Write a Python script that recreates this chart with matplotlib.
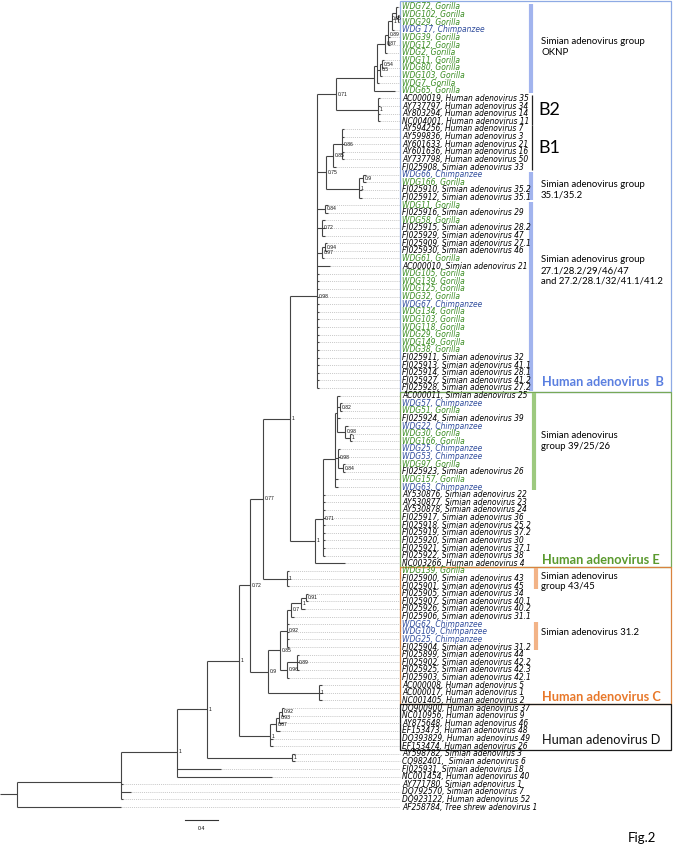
import re
import matplotlib
matplotlib.use("Agg")
import matplotlib.pyplot as plt
from matplotlib import font_manager as fm
from matplotlib.collections import LineCollection
from matplotlib.patches import Rectangle

# ---------------- data ----------------
taxa = [
    "WDG72, Gorilla", "WDG102, Gorilla", "WDG29, Gorilla", "WDG 17, Chimpanzee",
    "WDG39, Gorilla", "WDG12, Gorilla", "WDG2, Gorilla", "WDG11, Gorilla",
    "WDG80, Gorilla", "WDG103, Gorilla", "WDG7, Gorilla", "WDG65, Gorilla",
    "AC000019, Human adenovirus 35", "AY737797, Human adenovirus 34",
    "AY803294, Human adenovirus 14", "NC004001, Human adenovirus 11",
    "AY594256, Human adenovirus 7", "AY599836, Human adenovirus 3",
    "AY601633, Human adenovirus 21", "AY601636, Human adenovirus 16",
    "AY737798, Human adenovirus 50", "FJ025908, Simian adenovirus 33",
    "WDG66, Chimpanzee", "WDG166, Gorilla",
    "FJ025910, Simian adenovirus 35.2", "FJ025912, Simian adenovirus 35.1",
    "WDG11, Gorilla", "FJ025916, Simian adenovirus 29", "WDG58, Gorilla",
    "FJ025915, Simian adenovirus 28.2", "FJ025929, Simian adenovirus 47",
    "FJ025909, Simian adenovirus 27.1", "FJ025930, Simian adenovirus 46",
    "WDG61, Gorilla", "AC000010, Simian adenovirus 21",
    "WDG105, Gorilla", "WDG139, Gorilla", "WDG125, Gorilla", "WDG32, Gorilla",
    "WDG67, Chimpanzee", "WDG134, Gorilla", "WDG103, Gorilla", "WDG118, Gorilla",
    "WDG29, Gorilla", "WDG149, Gorilla", "WDG38, Gorilla",
    "FJ025911, Simian adenovirus 32", "FJ025913, Simian adenovirus 41.1",
    "FJ025914, Simian adenovirus 28.1", "FJ025927, Simian adenovirus 41.2",
    "FJ025928, Simian adenovirus 27.2",
    "AC000011, Simian adenovirus 25", "WDG57, Chimpanzee", "WDG51, Gorilla",
    "FJ025924, Simian adenovirus 39", "WDG22, Chimpanzee", "WDG30, Gorilla",
    "WDG166, Gorilla", "WDG25, Chimpanzee", "WDG53, Chimpanzee", "WDG97, Gorilla",
    "FJ025923, Simian adenovirus 26", "WDG157, Gorilla", "WDG63, Chimpanzee",
    "AY530876, Simian adenovirus 22", "AY530877, Simian adenovirus 23",
    "AY530878, Simian adenovirus 24", "FJ025917, Simian adenovirus 36",
    "FJ025918, Simian adenovirus 25.2", "FJ025919, Simian adenovirus 37.2",
    "FJ025920, Simian adenovirus 30", "FJ025921, Simian adenovirus 37.1",
    "FJ025922, Simian adenovirus 38", "NC003266, Human adenovirus 4",
    "WDG139, Gorilla", "FJ025900, Simian adenovirus 43",
    "FJ025901, Simian adenovirus 45", "FJ025905, Simian adenovirus 34",
    "FJ025907, Simian adenovirus 40.1", "FJ025926, Simian adenovirus 40.2",
    "FJ025906, Simian adenovirus 31.1", "WDG62, Chimpanzee", "WDG109, Chimpanzee",
    "WDG25, Chimpanzee", "FJ025904, Simian adenovirus 31.2",
    "FJ025899, Simian adenovirus 44", "FJ025902, Simian adenovirus 42.2",
    "FJ025925, Simian adenovirus 42.3", "FJ025903, Simian adenovirus 42.1",
    "AC000008, Human adenovirus 5", "AC000017, Human adenovirus 1",
    "NC001405, Human adenovirus 2",
    "DQ900900, Human adenovirus 37", "NC010956, Human adenovirus 9",
    "AY875648, Human adenovirus 46", "EF153473, Human adenovirus 48",
    "DQ393829, Human adenovirus 49", "EF153474, Human adenovirus 26",
    "AY598782, Simian adenovirus 3", "CQ982401,  Simian adenovirus 6",
    "FJ025931, Simian adenovirus 18", "NC001454, Human adenovirus 40",
    "AY771780, Simian adenovirus 1", "DQ792570, Simian adenovirus 7",
    "DQ923122, Human adenovirus 52", "AF258784, Tree shrew adenovirus 1",
]

# tree pieces (Newick, leaves = 1-based index into taxa, labels = posterior support)
clade_oknp = ("((((((1:0.024,(2:0.012,3:0.012)0.65:0.024):0.048,4:0.024)1:0.048,"
              "5:0.024,6:0.024)0.89:0.036,7:0.024)0.87:0.097,"
              "((8:0.024,9:0.024)0.54:0.024,10:0.024)0.5:0.036,11:0.024):0.036,"
              "12:0.255):0.461")
clade_b2 = "(13:0.024,14:0.024,15:0.024,16:0.024)1:0.509"
clade_b1 = ("((17:0.024,18:0.024,19:0.024,20:0.024,21:0.024)0.86:0.109,"
            "22:0.036)0.85:0.085")
clade_s35 = "((23:0.036,24:0.036)0.9:0.048,25:0.036,26:0.036)1:0.400"
clade_s27 = ("(27:0.036,28:0.036)0.84:0.097,(29:0.036,30:0.036,31:0.036)0.72:0.061,"
             "((32:0.024,33:0.024)0.94:0.036,34:0.024)0.97:0.061,35:0.158,"
             "36:0.024,37:0.024,38:0.024,39:0.024,40:0.024,41:0.024,42:0.024,"
             "43:0.024,44:0.024,45:0.024,46:0.024,47:0.024,48:0.024,49:0.024,"
             "50:0.024,51:0.024")
clade_e39 = ("((52:0.036,(53:0.024,54:0.024)0.82:0.036,55:0.036,"
             "(56:0.036,(57:0.024,58:0.024)1:0.061)0.98:0.097):0.024,"
             "(59:0.024,60:0.024,(61:0.024,62:0.024)0.84:0.061)0.98:0.036,"
             "63:0.036,64:0.036):0.145")
clade_e_rest = ("65:0.024,66:0.024,67:0.024,68:0.024,69:0.024,70:0.024,"
                "71:0.024,72:0.024,73:0.024")
clade_4345 = "(75:0.024,76:0.024,77:0.024)1:0.291"
clade_c_simian = ("(((((78:0.024,79:0.024)0.91:0.061,80:0.048)1:0.121,81:0.036)0.7:0.048,"
                  "82:0.024,83:0.024,84:0.024,85:0.024)0.92:0.085,"
                  "((86:0.024,87:0.024,88:0.024)0.89:0.121,89:0.024)0.96:0.085)0.85:0.145")
clade_hc = "(90:0.036,91:0.036,92:0.036)1:0.618"
clade_d = ("((((93:0.024,94:0.024)0.92:0.036,95:0.048)0.93:0.036,96:0.048)0.87:0.073,"
           "97:0.036,98:0.036)1:0.376")
clade_sa36 = "(99:0.036,100:0.036)1:1.030"

clade_b = f"(({clade_oknp},{clade_b2})0.71:0.230,({clade_b1},{clade_s35})0.75:0.109,{clade_s27})0.98:0.327"
clade_e = f"(({clade_e39},{clade_e_rest})0.71:0.097,74:0.364)1:0.303"
n263 = f"(({clade_b},{clade_e})1:0.327,{clade_4345})0.77:0.158"
n268 = f"({clade_c_simian},{clade_hc})0.9:0.218"
n250 = f"({n263},{n268})0.72:0.133"
n239 = f"({n250},{clade_d})1:0.388"
n207 = f"({n239},{clade_sa36})1:0.364"
n177 = f"({n207},101:0.533,102:1.152)1:0.679"
n121 = f"({n177},103:0.024,104:0.121,105:0.024):1.261"
tree_newick = f"({n121},106:1.261):0.206;"

scale_bar_value = 0.4

# groups: (text, first leaf, last leaf)
bar_groups = [
    ("Simian adenovirus group\nOKNP", 1, 12, "blue"),
    ("Simian adenovirus group\n35.1/35.2", 23, 26, "blue"),
    ("Simian adenovirus group\n27.1/28.2/29/46/47\nand 27.2/28.1/32/41.1/41.2", 27, 51, "blue"),
    ("Simian adenovirus\ngroup 39/25/26", 52, 64, "green"),
    ("Simian adenovirus\ngroup 43/45", 75, 77, "orange"),
    ("Simian adenovirus 31.2", 82, 85, "orange"),
]
line_groups = [("B2", 13, 16), ("B1", 17, 22)]
species_boxes = [
    ("Human adenovirus  B", 1, 51, "B"),
    ("Human adenovirus E", 52, 74, "E"),
    ("Human adenovirus C", 75, 92, "C"),
    ("Human adenovirus D", 93, 98, "D"),
]

# ---------------- layout / style ----------------
W, H = 673, 849
PXU = 82.5          # pixels per substitution unit
ROW0, ROWH = 7.0, 7.62
LABEL_X = 402
BOX_L, BOX_R = 399.5, 671
LEAF_REF_TEXT = "AC000019, Human adenovirus 35"
LEAF_REF_WIDTH = 127.0   # px in the reference

def rx(p):
    return p / PXU

def ry(p):
    return (p - ROW0) / ROWH

ttf = fm.fontManager.ttflist
avail = {f.name for f in ttf}

def pick(*names):
    for n in names:
        if n in avail:
            return n
    return "DejaVu Sans"

def narrow_italic_props():
    def score(f):
        nm = f.name.lower()
        s = 0
        if "liberation sans narrow" in nm or "arial narrow" in nm:
            s += 10
        elif "narrow" in nm or "condensed" in nm or str(f.stretch) in ("condensed", "semi-condensed"):
            s += 6
        else:
            return -1
        if "mono" in nm or "serif" in nm and "sans" not in nm:
            return -1
        if f.style in ("italic", "oblique"):
            s += 3
        if f.weight in ("normal", 400, "regular", "book"):
            s += 1
        return s
    best = None
    for f in ttf:
        sc = score(f)
        if sc > 0 and (best is None or sc > best[0]):
            best = (sc, f)
    if best is not None:
        f = best[1]
        style = "normal" if f.style in ("italic", "oblique") else "italic"
        return fm.FontProperties(fname=f.fname, style=style)
    return fm.FontProperties(family=pick("Liberation Sans", "Arimo", "DejaVu Sans"), style="italic")

side_font = pick("Lato", "Open Sans", "DejaVu Sans")
small_font = pick("Liberation Sans", "DejaVu Sans")

GREEN_TXT = "#3a8c22"
BLUE_TXT = "#2f4c9c"
LINE_C = "#444444"
bar_colors = {"blue": "#a2b4ee", "green": "#9dc97f", "orange": "#f2b387"}
bar_x = {"blue": 531, "green": 534, "orange": 536}
box_colors = {"B": "#8eaae4", "E": "#78a957", "C": "#d9833e", "D": "#1a1a1a"}
title_colors = {"B": "#5a7fe0", "E": "#5a9a2e", "C": "#e8782a", "D": "#111111"}
title_dy = {"B": -10, "E": -7, "C": -7, "D": -10}
bar_text_dy = [-2, 4, -26, 0, 3, -3]

# ---------------- parse tree ----------------
def parse_newick(s):
    s = s.replace(" ", "").rstrip(";")
    pos = 0
    name_re = re.compile(r"[^:,();]*")
    num_re = re.compile(r"[0-9.eE+-]+")

    def node():
        nonlocal pos
        ch = []
        if s[pos] == "(":
            pos += 1
            ch.append(node())
            while s[pos] == ",":
                pos += 1
                ch.append(node())
            pos += 1  # ')'
        m = name_re.match(s, pos)
        name = m.group(0)
        pos = m.end()
        bl = 0.0
        if pos < len(s) and s[pos] == ":":
            m = num_re.match(s, pos + 1)
            bl = float(m.group(0))
            pos = m.end()
        return {"ch": ch, "name": name, "bl": bl}

    return node()

root = parse_newick(tree_newick)

hlines, vlines, tips, supports = [], [], [], []

def layout(nd, xparent):
    x = xparent + nd["bl"]
    if not nd["ch"]:
        y = int(nd["name"]) - 1
        tips.append((x, y))
    else:
        ys = [layout(c, x) for c in nd["ch"]]
        y = sum(ys) / len(ys)
        vlines.append([(x, min(ys)), (x, max(ys))])
        if nd["name"]:
            supports.append((x, y, nd["name"]))
    hlines.append([(xparent, y), (x, y)])
    return y

layout(root, 0.0)

# ---------------- draw ----------------
fig = plt.figure(figsize=(W / 100, H / 100), dpi=100)
ax = fig.add_axes([0, 0, 1, 1])
ax.set_xlim(0, rx(W))
ax.set_ylim(ry(H), ry(0))
ax.axis("off")

# leaf font: fit width of a reference label
leaf_fp = narrow_italic_props()
renderer = fig.canvas.get_renderer()
probe = ax.text(0, 0, LEAF_REF_TEXT, fontproperties=leaf_fp, fontsize=10)
wpx = probe.get_window_extent(renderer=renderer).width
probe.remove()
leaf_size = min(7.8, 10 * LEAF_REF_WIDTH / wpx)

# dotted leaders
lead = [[(x, y), (rx(LABEL_X - 2), y)] for x, y in tips if x < rx(LABEL_X - 3)]
ax.add_collection(LineCollection(lead, colors="#b5b5b5", linewidths=0.5,
                                 linestyles=(0, (1.5, 1.5))))
ax.add_collection(LineCollection(hlines + vlines, colors=LINE_C, linewidths=0.8))

for x, y, lab in supports:
    t = ax.text(x + rx(1.5), y, lab, fontsize=3.6, family=small_font,
                va="center", ha="left", color="#111111")
    bb = t.get_window_extent(renderer=renderer)
    if bb.x1 > LABEL_X - 0.5:
        # keep the tiny support value clear of the leaf-name column
        t.set_x(rx(LABEL_X - 1))
        t.set_ha("right")

for i, name in enumerate(taxa):
    col = GREEN_TXT if "Gorilla" in name else (BLUE_TXT if "Chimpanzee" in name else "black")
    ax.text(rx(LABEL_X), i, name, fontproperties=leaf_fp, fontsize=leaf_size,
            va="center", ha="left", color=col)

# species boxes
for txt, a, b, key in species_boxes:
    top = a - 1 - 0.5 if a > 1 else ry(0.6)
    bot = b - 1 + 0.5
    ax.add_patch(Rectangle((rx(BOX_L), top), rx(BOX_R) - rx(BOX_L), bot - top,
                           fill=False, edgecolor=box_colors[key], linewidth=0.9))
    ax.text(rx(542), bot + title_dy[key] / ROWH, txt, fontsize=9.2,
            family=side_font, fontweight="bold" if key != "D" else "normal",
            color=title_colors[key], va="center", ha="left")

# coloured group bars
for (txt, a, b, c), dy in zip(bar_groups, bar_text_dy):
    ax.plot([rx(bar_x[c])] * 2, [a - 1 - 0.35, b - 1 + 0.35], color=bar_colors[c],
            linewidth=3.0, solid_capstyle="butt")
    ax.text(rx(541), (a + b) / 2 - 1 + dy / ROWH, txt, fontsize=6.9, family=side_font,
            va="center", ha="left", color="black", linespacing=1.25)

for txt, a, b in line_groups:
    ax.plot([rx(532)] * 2, [a - 1 - 0.45, b - 1 + 0.45], color="#222222",
            linewidth=0.9, solid_capstyle="butt")
    ax.text(rx(538), (a + b) / 2 - 1, txt, fontsize=13, family=side_font,
            va="center", ha="left", color="black")

# scale bar
sb_y = ry(820)
ax.plot([rx(185), rx(185) + scale_bar_value], [sb_y, sb_y], color="#333333", linewidth=0.8)
ax.text(rx(185) + scale_bar_value / 2, ry(829), f"{scale_bar_value}", fontsize=3.8,
        family=small_font, ha="center", va="center")

ax.text(rx(628), ry(838), "Fig.2", fontsize=9.5, family=side_font, ha="left", va="center")

fig.savefig("out.png", dpi=100)
